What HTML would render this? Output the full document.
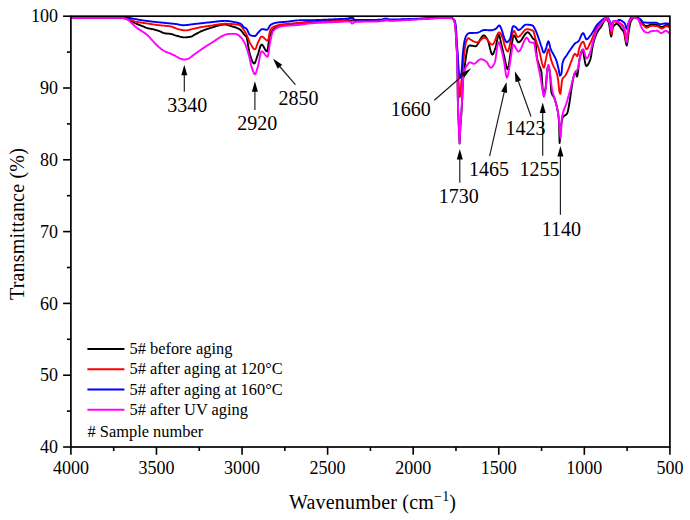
<!DOCTYPE html>
<html><head><meta charset="utf-8"><style>
html,body{margin:0;padding:0;background:#fff;}
body{width:690px;height:520px;overflow:hidden;position:relative;}
svg{position:absolute;left:0;top:0;}
text{font-family:"Liberation Serif",serif;fill:#000;}
.tk{font-size:18px;}
.ti{font-size:20px;letter-spacing:0.2px;}
.an{font-size:20px;}
.lg{font-size:16.4px;}
</style></head><body>
<svg width="690" height="520" viewBox="0 0 690 520">
<polyline points="71,17.50 71.50,17.50 72,17.50 72.50,17.50 73,17.50 73.50,17.50 74,17.50 74.50,17.50 75,17.50 75.50,17.50 76,17.50 76.50,17.50 77,17.50 77.50,17.50 78,17.50 78.50,17.50 79,17.50 79.50,17.50 80,17.50 80.50,17.50 81,17.50 81.50,17.50 82,17.50 82.50,17.50 83,17.50 83.50,17.50 84,17.50 84.50,17.50 85,17.50 85.50,17.50 86,17.50 86.50,17.51 87,17.51 87.50,17.51 88,17.51 88.50,17.51 89,17.51 89.50,17.51 90,17.51 90.50,17.51 91,17.51 91.50,17.51 92,17.51 92.50,17.51 93,17.51 93.50,17.51 94,17.51 94.50,17.51 95,17.52 95.50,17.52 96,17.52 96.50,17.52 97,17.52 97.50,17.52 98,17.52 98.50,17.52 99,17.52 99.50,17.52 100,17.53 100.50,17.53 101,17.53 101.50,17.53 102,17.53 102.50,17.53 103,17.53 103.50,17.53 104,17.54 104.50,17.54 105,17.54 105.50,17.54 106,17.54 106.50,17.54 107,17.54 107.50,17.55 108,17.55 108.50,17.55 109,17.55 109.50,17.55 110,17.55 110.50,17.56 111,17.56 111.50,17.56 112,17.56 112.50,17.56 113,17.57 113.50,17.57 114,17.57 114.50,17.57 115,17.57 115.50,17.58 116,17.58 116.50,17.58 117,17.58 117.50,17.59 118,17.59 118.50,17.59 119,17.59 119.50,17.60 120,17.60 120.50,17.62 121,17.66 121.50,17.72 122,17.80 122.50,17.90 123,18 123.50,18.12 124,18.25 124.50,18.37 125,18.50 125.50,18.64 126,18.81 126.50,19 127,19.20 127.50,19.42 128,19.65 128.50,19.89 129,20.13 129.50,20.37 130,20.60 130.53,20.85 131.05,21.10 131.58,21.37 132.11,21.64 132.64,21.92 133.16,22.20 133.69,22.47 134.22,22.74 134.75,23.01 135.27,23.26 135.80,23.50 136.33,23.73 136.85,23.95 137.38,24.17 137.91,24.38 138.44,24.58 138.96,24.78 139.49,24.99 140.02,25.19 140.55,25.39 141.07,25.59 141.60,25.80 142.13,26.01 142.65,26.24 143.18,26.47 143.71,26.70 144.24,26.93 144.76,27.15 145.29,27.37 145.82,27.58 146.35,27.77 146.87,27.95 147.40,28.10 147.93,28.24 148.45,28.36 148.98,28.47 149.51,28.57 150.04,28.67 150.56,28.77 151.09,28.86 151.62,28.96 152.15,29.07 152.67,29.18 153.20,29.30 153.73,29.43 154.25,29.57 154.78,29.71 155.31,29.85 155.84,30 156.36,30.16 156.89,30.32 157.42,30.48 157.95,30.65 158.47,30.82 159,31 159.53,31.19 160.05,31.41 160.58,31.65 161.11,31.90 161.64,32.15 162.16,32.40 162.69,32.63 163.22,32.85 163.75,33.04 164.27,33.19 164.80,33.30 165.33,33.38 165.85,33.44 166.38,33.50 166.91,33.54 167.44,33.59 167.96,33.63 168.49,33.67 169.02,33.71 169.55,33.76 170.07,33.83 170.60,33.90 171.13,34 171.65,34.13 172.18,34.28 172.71,34.45 173.24,34.63 173.76,34.83 174.29,35.02 174.82,35.21 175.35,35.39 175.87,35.55 176.40,35.70 176.91,35.83 177.41,35.97 177.92,36.11 178.43,36.25 178.93,36.40 179.44,36.54 179.94,36.68 180.45,36.81 180.96,36.93 181.46,37.04 181.97,37.14 182.47,37.23 182.98,37.30 183.49,37.35 183.99,37.39 184.50,37.40 185.03,37.39 185.55,37.37 186.08,37.34 186.61,37.30 187.14,37.25 187.66,37.19 188.19,37.13 188.72,37.05 189.25,36.97 189.77,36.89 190.30,36.80 190.83,36.68 191.35,36.50 191.88,36.28 192.41,36.03 192.94,35.74 193.46,35.43 193.99,35.11 194.52,34.79 195.05,34.48 195.57,34.18 196.10,33.90 196.63,33.63 197.15,33.36 197.68,33.08 198.21,32.81 198.74,32.53 199.26,32.26 199.79,31.99 200.32,31.72 200.85,31.47 201.37,31.23 201.90,31 202.41,30.79 202.91,30.58 203.42,30.38 203.93,30.18 204.43,29.98 204.94,29.79 205.44,29.60 205.95,29.42 206.46,29.24 206.96,29.06 207.47,28.89 207.97,28.72 208.48,28.56 208.99,28.40 209.49,28.25 210,28.10 210.51,27.95 211.01,27.80 211.52,27.64 212.03,27.48 212.53,27.32 213.04,27.16 213.55,27 214.05,26.83 214.56,26.67 215.07,26.51 215.57,26.35 216.08,26.20 216.59,26.04 217.09,25.89 217.60,25.75 218.11,25.61 218.61,25.47 219.12,25.34 219.63,25.22 220.13,25.11 220.64,25 221.15,24.90 221.65,24.81 222.16,24.73 222.67,24.66 223.17,24.61 223.68,24.56 224.19,24.53 224.69,24.51 225.20,24.50 225.73,24.53 226.27,24.61 226.80,24.73 227.33,24.88 227.87,25.06 228.40,25.25 228.93,25.44 229.47,25.63 230,25.80 230.52,25.95 231.04,26.10 231.57,26.25 232.09,26.39 232.61,26.54 233.13,26.68 233.66,26.83 234.18,26.98 234.70,27.14 235.22,27.31 235.74,27.49 236.27,27.67 236.79,27.87 237.31,28.08 237.83,28.31 238.36,28.55 238.88,28.82 239.40,29.10 239.94,29.46 240.48,29.93 241.02,30.48 241.56,31.09 242.10,31.76 242.64,32.46 243.18,33.17 243.72,33.87 244.26,34.56 244.80,35.20 245.30,35.69 245.80,36.13 246.30,36.68 246.80,37.50 247.50,41.17 248.20,46 248.70,48.69 249.20,51.29 249.70,53.60 250.20,55.40 250.70,56.88 251.20,58.33 251.70,59.70 252.20,60.93 252.70,61.98 253.20,62.79 253.70,63.31 254.20,63.50 254.77,63.10 255.33,62.04 255.90,60.52 256.47,58.77 257.03,56.99 257.60,55.40 258.10,53.97 258.60,52.29 259.10,50.50 259.60,48.74 260.10,47.13 260.60,45.81 261.10,44.93 261.60,44.60 262.14,44.79 262.68,45.31 263.22,46.07 263.76,46.99 264.30,48 264.84,49.01 265.38,49.93 265.92,50.69 266.46,51.21 267,51.40 267.54,50.11 268.08,46.92 268.62,42.89 269.16,39.07 269.70,36.50 270.27,34.92 270.83,33.52 271.40,32.32 271.97,31.29 272.53,30.45 273.10,29.80 273.64,29.28 274.18,28.80 274.72,28.36 275.26,27.96 275.80,27.60 276.34,27.28 276.88,27 277.42,26.76 277.96,26.56 278.50,26.40 279,26.28 279.50,26.16 280,26.04 280.50,25.92 281,25.81 281.50,25.70 282,25.60 282.50,25.49 283,25.39 283.50,25.30 284,25.20 284.50,25.11 285,25.02 285.50,24.93 286,24.84 286.50,24.76 287,24.68 287.50,24.60 288,24.52 288.50,24.45 289,24.38 289.50,24.31 290,24.24 290.50,24.17 291,24.10 291.50,24.04 292,23.98 292.50,23.92 293,23.86 293.50,23.80 294,23.75 294.50,23.69 295,23.64 295.50,23.59 296,23.54 296.50,23.49 297,23.44 297.50,23.40 298,23.35 298.50,23.30 299,23.26 299.50,23.22 300,23.17 300.50,23.13 301,23.09 301.50,23.05 302,23.01 302.50,22.97 303,22.93 303.50,22.89 304,22.86 304.50,22.82 305,22.78 305.50,22.74 306,22.70 306.50,22.67 307,22.63 307.50,22.59 308,22.55 308.50,22.52 309,22.48 309.50,22.44 310,22.40 310.50,22.36 311,22.32 311.50,22.28 312,22.24 312.50,22.20 313,22.17 313.50,22.13 314,22.09 314.50,22.05 315,22.01 315.50,21.97 316,21.93 316.50,21.89 317,21.86 317.50,21.82 318,21.78 318.50,21.74 319,21.71 319.50,21.67 320,21.63 320.50,21.60 321,21.56 321.50,21.53 322,21.49 322.50,21.46 323,21.42 323.50,21.39 324,21.36 324.50,21.32 325,21.29 325.50,21.26 326,21.23 326.50,21.20 327,21.17 327.50,21.14 328,21.11 328.50,21.09 329,21.06 329.50,21.03 330,21.01 330.50,20.99 331,20.96 331.50,20.94 332,20.92 332.50,20.90 333,20.88 333.50,20.86 334,20.84 334.50,20.82 335,20.80 335.50,20.79 336,20.78 336.50,20.76 337,20.75 337.50,20.74 338,20.73 338.50,20.72 339,20.71 339.50,20.71 340,20.70 340.50,20.70 341,20.69 341.50,20.69 342,20.68 342.50,20.68 343,20.67 343.50,20.67 344,20.67 344.50,20.66 345,20.66 345.50,20.66 346,20.65 346.50,20.65 347,20.65 347.50,20.64 348,20.64 348.50,20.64 349,20.64 349.50,20.63 350,20.63 350.50,20.63 351,20.63 351.50,20.63 352,20.62 352.50,20.62 353,20.62 353.50,20.62 354,20.62 354.50,20.61 355,20.61 355.50,20.61 356,20.61 356.50,20.61 357,20.61 357.50,20.60 358,20.60 358.50,20.60 359,20.60 359.50,20.60 360,20.60 360.50,20.60 361,20.59 361.50,20.59 362,20.59 362.50,20.59 363,20.59 363.50,20.59 364,20.58 364.50,20.58 365,20.58 365.50,20.58 366,20.58 366.50,20.58 367,20.58 367.50,20.57 368,20.57 368.50,20.57 369,20.57 369.50,20.57 370,20.56 370.50,20.56 371,20.56 371.50,20.56 372,20.55 372.50,20.55 373,20.55 373.50,20.55 374,20.54 374.50,20.54 375,20.54 375.50,20.53 376,20.53 376.50,20.53 377,20.52 377.50,20.52 378,20.52 378.50,20.51 379,20.51 379.50,20.50 380,20.50 380.50,20.50 381,20.49 381.50,20.48 382,20.48 382.50,20.47 383,20.46 383.50,20.45 384,20.44 384.50,20.43 385,20.42 385.50,20.41 386,20.40 386.50,20.39 387,20.38 387.50,20.36 388,20.35 388.50,20.34 389,20.32 389.50,20.31 390,20.29 390.50,20.27 391,20.26 391.50,20.24 392,20.22 392.50,20.21 393,20.19 393.50,20.17 394,20.15 394.50,20.13 395,20.11 395.50,20.10 396,20.08 396.50,20.06 397,20.04 397.50,20.01 398,19.99 398.50,19.97 399,19.95 399.50,19.93 400,19.91 400.50,19.89 401,19.87 401.50,19.84 402,19.82 402.50,19.80 403,19.78 403.50,19.75 404,19.73 404.50,19.71 405,19.69 405.50,19.66 406,19.64 406.50,19.62 407,19.60 407.50,19.57 408,19.55 408.50,19.53 409,19.50 409.50,19.48 410,19.46 410.50,19.44 411,19.41 411.50,19.39 412,19.37 412.50,19.35 413,19.33 413.50,19.31 414,19.28 414.50,19.26 415,19.24 415.50,19.22 416,19.20 416.50,19.18 417,19.16 417.50,19.13 418,19.11 418.50,19.09 419,19.06 419.50,19.04 420,19.01 420.50,18.98 421,18.96 421.50,18.93 422,18.90 422.50,18.87 423,18.84 423.50,18.81 424,18.78 424.50,18.75 425,18.72 425.50,18.69 426,18.66 426.50,18.63 427,18.60 427.50,18.57 428,18.54 428.50,18.51 429,18.47 429.50,18.44 430,18.41 430.50,18.38 431,18.35 431.50,18.32 432,18.29 432.50,18.26 433,18.23 433.50,18.20 434,18.17 434.50,18.14 435,18.11 435.50,18.08 436,18.05 436.50,18.02 437,18 437.50,17.97 438,17.95 438.50,17.92 439,17.90 439.50,17.87 440,17.85 440.50,17.83 441,17.81 441.50,17.78 442,17.77 442.50,17.75 443,17.73 443.50,17.71 444,17.70 444.50,17.68 445,17.67 445.50,17.66 446,17.64 446.50,17.63 447,17.63 447.50,17.62 448,17.61 448.50,17.61 449,17.60 449.50,17.60 450,17.60 450.57,17.67 451.15,17.87 451.73,18.16 452.30,18.50 452.88,18.94 453.45,19.59 454.03,20.55 454.60,21.90 455.20,25.50 455.80,32.30 456.30,43.80 457.20,55.40 457.50,75 457.80,97 458.20,113 458.90,128 459.60,143.50 460.30,128 460.85,120.27 461.40,113 462.30,97 462.90,82 463.40,76.54 463.90,72.80 464.40,69.20 465,64.25 465.60,59.46 466.20,55.40 466.77,52.04 467.33,49.10 467.90,47.30 468.47,46.40 469.03,45.75 469.60,45.50 470.13,45.52 470.65,45.56 471.18,45.63 471.71,45.71 472.24,45.80 472.76,45.90 473.29,45.99 473.82,46.07 474.35,46.14 474.87,46.18 475.40,46.20 475.92,46.08 476.45,45.74 476.97,45.20 477.50,44.51 478.02,43.70 478.55,42.78 479.07,41.81 479.60,40.80 480.12,39.79 480.65,38.82 481.18,37.90 481.70,37.09 482.23,36.40 482.75,35.86 483.28,35.52 483.80,35.40 484.36,35.54 484.91,35.93 485.47,36.52 486.03,37.26 486.59,38.12 487.14,39.05 487.70,40 488.21,41.19 488.72,42.89 489.23,44.94 489.74,47.16 490.26,49.37 490.77,51.39 491.28,53.06 491.79,54.19 492.30,54.60 492.82,54.31 493.33,53.52 493.85,52.36 494.37,50.97 494.88,49.47 495.40,48 495.97,45.94 496.53,43.20 497.10,40.24 497.67,37.53 498.23,35.56 498.80,34.80 499.34,35.52 499.88,37.36 500.42,39.87 500.96,42.57 501.50,45 502.07,47.36 502.65,49.80 503.23,52.25 503.80,54.60 504.36,57.03 504.91,59.75 505.47,62.51 506.03,65.08 506.59,67.21 507.14,68.66 507.70,69.20 508.22,68.29 508.73,65.88 509.25,62.49 509.77,58.63 510.28,54.80 510.80,51.50 511.40,47.70 512,43.44 512.60,39.47 513.20,36.54 513.80,35.40 514.32,35.64 514.84,36.27 515.37,37.19 515.89,38.28 516.41,39.42 516.93,40.51 517.46,41.43 517.98,42.06 518.50,42.30 519.01,42.21 519.52,41.96 520.03,41.56 520.54,41.04 521.06,40.41 521.57,39.71 522.08,38.94 522.59,38.13 523.10,37.30 523.61,36.47 524.12,35.66 524.63,34.89 525.14,34.19 525.66,33.56 526.17,33.04 526.68,32.64 527.19,32.39 527.70,32.30 528.21,32.41 528.72,32.71 529.23,33.17 529.73,33.77 530.24,34.46 530.75,35.21 531.26,35.99 531.77,36.77 532.27,37.51 532.78,38.19 533.29,38.76 533.80,39.20 534.50,39.54 535.20,40 535.77,44.07 536.33,51.60 536.90,57.30 537.48,59.95 538.05,61.96 538.62,63.66 539.20,65.40 539.78,66.95 540.35,68.25 540.92,69.85 541.50,72.30 542.10,80.82 542.70,89.60 543.25,92.65 543.80,94 544.40,93.12 545,90.90 545.60,88 546.23,81.88 546.87,73.43 547.50,68 548.40,66 549,67.48 549.60,71.19 550.20,76 550.75,84.54 551.30,91.90 551.80,93.57 552.30,94.69 552.80,95.48 553.30,96.15 553.80,96.92 554.30,98 554.80,99.37 555.30,100.88 555.80,102.56 556.30,104.45 556.80,106.59 557.30,109 557.87,111.90 558.43,115.75 559,122 559.60,143 560.30,135 560.83,129.11 561.37,123.59 561.90,120 562.50,118.07 563.10,116.90 563.60,116.30 564.10,115.86 564.60,115.54 565.10,115.26 565.60,114.98 566.10,114.63 566.60,114.15 567.10,113.50 567.67,111.96 568.25,109.40 568.83,106.26 569.40,103 570.03,98.99 570.67,94.41 571.30,90 571.90,85.95 572.50,82.04 573.10,79 573.67,76.72 574.25,74.62 574.83,73.09 575.40,72.50 575.97,73.54 576.53,75.46 577.10,76.50 577.67,74.43 578.25,69.61 578.83,64.11 579.40,60 579.98,57.21 580.56,54.51 581.14,52.21 581.72,50.60 582.30,50 582.80,50.69 583.30,52.50 583.80,55.06 584.30,58 584.80,60.94 585.30,63.50 585.80,65.31 586.30,66 586.84,65.85 587.38,65.42 587.91,64.74 588.45,63.84 588.99,62.73 589.52,61.46 590.06,60.04 590.60,58.50 591.17,55.68 591.73,51.66 592.30,48.10 592.88,45.38 593.45,42.89 594.02,40.69 594.60,38.80 595.10,37.37 595.60,36.04 596.10,34.82 596.60,33.69 597.10,32.64 597.60,31.68 598.10,30.80 598.67,29.92 599.23,29.17 599.80,28.48 600.37,27.80 600.93,27.06 601.50,26.20 602.08,25.09 602.65,23.80 603.22,22.54 603.80,21.50 604.40,20.56 605,19.65 605.60,18.97 606.20,18.70 606.72,18.91 607.24,19.50 607.76,20.38 608.28,21.47 608.80,22.70 609.40,25.68 610,30.33 610.60,34.62 611.20,36.50 611.77,34.32 612.33,30.11 612.90,27.30 613.40,26.51 613.90,25.81 614.40,25.22 614.90,24.72 615.40,24.32 615.90,24.03 616.40,23.86 616.90,23.80 617.41,23.92 617.92,24.24 618.43,24.74 618.94,25.36 619.46,26.07 619.97,26.83 620.48,27.60 620.99,28.34 621.50,29 622.08,29.63 622.65,30.24 623.22,30.95 623.80,31.90 624.30,33.58 624.80,36.28 625.30,39.42 625.80,42.40 626.30,44.63 626.80,45.50 627.37,43.04 627.93,37.83 628.50,33.10 629.08,29.56 629.65,26.14 630.22,23.31 630.80,21.50 631.37,20.42 631.93,19.46 632.50,18.66 633.07,18.04 633.63,17.64 634.20,17.50 634.75,17.52 635.30,17.57 635.85,17.65 636.40,17.75 636.95,17.87 637.50,18 638,18.17 638.50,18.42 639,18.75 639.50,19.13 640,19.55 640.50,20 641,20.60 641.50,21.41 642,22.31 642.50,23.21 643,23.97 643.50,24.50 644,24.87 644.50,25.22 645,25.53 645.50,25.78 646,25.94 646.50,26 647,25.97 647.50,25.87 648,25.73 648.50,25.55 649,25.35 649.50,25.15 650,24.95 650.50,24.77 651,24.63 651.50,24.53 652,24.50 652.50,24.51 653,24.53 653.50,24.56 654,24.60 654.50,24.65 655,24.71 655.50,24.77 656,24.85 656.50,24.92 657,25 657.50,25.12 658,25.31 658.50,25.55 659,25.82 659.50,26.10 660,26.37 660.50,26.62 661,26.82 661.50,26.95 662,27 662.50,26.93 663,26.75 663.50,26.48 664,26.17 664.50,25.83 665,25.52 665.50,25.25 666,25.07 666.50,25 667,25.03 667.50,25.12 668,25.26 668.50,25.45 669,25.70 669.50,26" fill="none" stroke="#000000" stroke-width="1.9" stroke-linejoin="round"/>
<polyline points="71,17.50 71.50,17.50 72,17.50 72.50,17.50 73,17.50 73.50,17.50 74,17.50 74.50,17.50 75,17.50 75.50,17.50 76,17.50 76.50,17.50 77,17.50 77.50,17.50 78,17.50 78.50,17.50 79,17.50 79.50,17.50 80,17.50 80.50,17.50 81,17.50 81.50,17.51 82,17.51 82.50,17.51 83,17.51 83.50,17.51 84,17.51 84.50,17.51 85,17.51 85.50,17.51 86,17.51 86.50,17.51 87,17.51 87.50,17.51 88,17.52 88.50,17.52 89,17.52 89.50,17.52 90,17.52 90.50,17.52 91,17.52 91.50,17.52 92,17.53 92.50,17.53 93,17.53 93.50,17.53 94,17.53 94.50,17.53 95,17.54 95.50,17.54 96,17.54 96.50,17.54 97,17.54 97.50,17.55 98,17.55 98.50,17.55 99,17.55 99.50,17.56 100,17.56 100.50,17.56 101,17.56 101.50,17.57 102,17.57 102.50,17.57 103,17.58 103.50,17.58 104,17.58 104.50,17.59 105,17.59 105.50,17.59 106,17.60 106.50,17.60 107,17.60 107.50,17.61 108,17.61 108.50,17.61 109,17.62 109.50,17.62 110,17.63 110.50,17.63 111,17.64 111.50,17.64 112,17.64 112.50,17.65 113,17.65 113.50,17.66 114,17.66 114.50,17.67 115,17.67 115.50,17.68 116,17.68 116.50,17.69 117,17.70 117.50,17.70 118,17.71 118.50,17.71 119,17.72 119.50,17.73 120,17.73 120.50,17.74 121,17.74 121.50,17.75 122,17.76 122.50,17.76 123,17.77 123.50,17.78 124,17.79 124.50,17.79 125,17.80 125.50,17.84 126,17.93 126.50,18.07 127,18.24 127.50,18.44 128,18.65 128.50,18.87 129,19.10 129.50,19.31 130,19.50 130.53,19.70 131.05,19.91 131.58,20.13 132.11,20.35 132.64,20.58 133.16,20.80 133.69,21.02 134.22,21.22 134.75,21.40 135.27,21.56 135.80,21.70 136.30,21.81 136.81,21.92 137.31,22.02 137.82,22.12 138.32,22.21 138.83,22.30 139.33,22.38 139.83,22.46 140.34,22.54 140.84,22.61 141.35,22.68 141.85,22.75 142.36,22.82 142.86,22.89 143.37,22.95 143.87,23.02 144.37,23.08 144.88,23.15 145.38,23.22 145.89,23.28 146.39,23.35 146.90,23.43 147.40,23.50 147.90,23.58 148.41,23.65 148.91,23.73 149.42,23.81 149.92,23.89 150.43,23.97 150.93,24.04 151.43,24.12 151.94,24.20 152.44,24.28 152.95,24.35 153.45,24.43 153.96,24.51 154.46,24.58 154.97,24.66 155.47,24.73 155.97,24.80 156.48,24.87 156.98,24.94 157.49,25.01 157.99,25.07 158.50,25.14 159,25.20 159.50,25.26 160.01,25.31 160.51,25.37 161.02,25.42 161.52,25.46 162.03,25.51 162.53,25.55 163.03,25.59 163.54,25.63 164.04,25.67 164.55,25.71 165.05,25.76 165.56,25.80 166.06,25.84 166.57,25.89 167.07,25.94 167.57,25.99 168.08,26.05 168.58,26.11 169.09,26.18 169.59,26.24 170.10,26.32 170.60,26.40 171.11,26.50 171.61,26.63 172.12,26.78 172.62,26.96 173.13,27.15 173.64,27.36 174.14,27.58 174.65,27.80 175.16,28.02 175.66,28.24 176.17,28.46 176.67,28.66 177.18,28.85 177.69,29.03 178.19,29.18 178.70,29.30 179.20,29.41 179.70,29.52 180.20,29.63 180.70,29.74 181.20,29.84 181.70,29.94 182.20,30.04 182.70,30.13 183.20,30.20 183.70,30.27 184.20,30.32 184.70,30.37 185.20,30.39 185.70,30.40 186.21,30.39 186.71,30.35 187.22,30.29 187.72,30.21 188.23,30.12 188.74,30.01 189.24,29.89 189.75,29.76 190.26,29.63 190.76,29.49 191.27,29.35 191.78,29.20 192.28,29.07 192.79,28.94 193.29,28.81 193.80,28.70 194.31,28.59 194.81,28.48 195.32,28.37 195.83,28.26 196.33,28.15 196.84,28.04 197.34,27.92 197.85,27.81 198.36,27.70 198.86,27.59 199.37,27.49 199.88,27.38 200.38,27.28 200.89,27.18 201.39,27.09 201.90,27 202.41,26.91 202.91,26.83 203.42,26.75 203.93,26.67 204.43,26.59 204.94,26.51 205.44,26.44 205.95,26.37 206.46,26.29 206.96,26.22 207.47,26.15 207.97,26.08 208.48,26.01 208.99,25.94 209.49,25.87 210,25.80 210.51,25.73 211.01,25.65 211.52,25.57 212.03,25.49 212.53,25.41 213.04,25.32 213.55,25.23 214.05,25.14 214.56,25.05 215.07,24.97 215.57,24.88 216.08,24.79 216.59,24.70 217.09,24.62 217.60,24.53 218.11,24.45 218.61,24.37 219.12,24.30 219.63,24.23 220.13,24.16 220.64,24.10 221.15,24.04 221.65,23.99 222.16,23.94 222.67,23.90 223.17,23.86 223.68,23.84 224.19,23.82 224.69,23.80 225.20,23.80 225.70,23.80 226.21,23.81 226.71,23.81 227.22,23.82 227.72,23.84 228.23,23.85 228.73,23.87 229.23,23.89 229.74,23.91 230.24,23.94 230.75,23.97 231.25,24 231.76,24.03 232.26,24.07 232.77,24.11 233.27,24.15 233.77,24.19 234.28,24.24 234.78,24.29 235.29,24.34 235.79,24.39 236.30,24.44 236.80,24.50 237.30,24.57 237.80,24.67 238.30,24.79 238.80,24.94 239.30,25.11 239.80,25.31 240.30,25.54 240.80,25.80 241.33,26.22 241.87,26.86 242.40,27.66 242.93,28.54 243.47,29.44 244,30.30 244.55,31.14 245.10,32 245.65,32.91 246.20,33.90 246.70,34.94 247.20,36.12 247.70,37.40 248.20,38.71 248.70,40.02 249.20,41.25 249.70,42.36 250.20,43.30 250.72,44.19 251.24,45.11 251.77,46.02 252.29,46.88 252.81,47.66 253.33,48.33 253.86,48.84 254.38,49.18 254.90,49.30 255.47,48.90 256.03,47.85 256.60,46.39 257.17,44.76 257.73,43.18 258.30,41.90 258.85,40.79 259.40,39.59 259.95,38.43 260.50,37.44 261.05,36.76 261.60,36.50 262.11,36.58 262.62,36.80 263.12,37.14 263.63,37.56 264.14,38.04 264.65,38.55 265.16,39.06 265.67,39.54 266.18,39.96 266.68,40.30 267.19,40.52 267.70,40.60 268.24,39.60 268.78,37.18 269.32,34.17 269.86,31.43 270.40,29.80 270.90,29.12 271.40,28.52 271.90,28.01 272.40,27.57 272.90,27.19 273.40,26.88 273.90,26.62 274.40,26.40 274.90,26.21 275.40,26.03 275.90,25.86 276.40,25.70 276.90,25.54 277.40,25.40 277.90,25.27 278.40,25.14 278.90,25.03 279.40,24.92 279.90,24.82 280.40,24.72 280.90,24.63 281.40,24.55 281.90,24.47 282.40,24.39 282.90,24.33 283.40,24.26 283.90,24.20 284.40,24.14 284.91,24.09 285.41,24.04 285.91,23.99 286.42,23.94 286.92,23.90 287.42,23.86 287.92,23.82 288.43,23.78 288.93,23.75 289.43,23.71 289.94,23.68 290.44,23.65 290.94,23.62 291.45,23.59 291.95,23.56 292.45,23.53 292.96,23.50 293.46,23.47 293.96,23.44 294.47,23.41 294.97,23.38 295.47,23.35 295.98,23.32 296.48,23.28 296.98,23.25 297.48,23.21 297.99,23.17 298.49,23.13 298.99,23.09 299.50,23.05 300,23 300.50,22.95 301,22.89 301.50,22.83 302,22.76 302.50,22.69 303,22.61 303.50,22.54 304,22.46 304.50,22.38 305,22.30 305.50,22.23 306,22.15 306.50,22.08 307,22.01 307.50,21.94 308,21.88 308.50,21.82 309,21.78 309.50,21.73 310,21.70 310.50,21.67 311,21.64 311.50,21.62 312,21.59 312.50,21.57 313,21.55 313.50,21.52 314,21.50 314.50,21.48 315,21.46 315.50,21.45 316,21.43 316.50,21.41 317,21.40 317.50,21.38 318,21.37 318.50,21.35 319,21.34 319.50,21.33 320,21.32 320.50,21.31 321,21.29 321.50,21.28 322,21.27 322.50,21.26 323,21.25 323.50,21.24 324,21.23 324.50,21.22 325,21.21 325.50,21.20 326,21.19 326.50,21.18 327,21.17 327.50,21.16 328,21.15 328.50,21.14 329,21.13 329.50,21.12 330,21.10 330.50,21.09 331,21.08 331.50,21.07 332,21.05 332.50,21.04 333,21.02 333.50,21 334,20.99 334.50,20.97 335,20.95 335.50,20.93 336,20.91 336.50,20.89 337,20.86 337.50,20.84 338,20.81 338.50,20.79 339,20.76 339.50,20.73 340,20.70 340.50,20.67 341,20.63 341.50,20.60 342,20.56 342.50,20.51 343,20.46 343.50,20.40 344,20.34 344.50,20.27 345,20.19 345.50,20.10 346,20.01 346.50,19.90 347,19.78 347.50,19.65 348,19.50 348.50,19.12 349,18.44 349.50,17.68 350,17.06 350.50,16.80 351,17.11 351.50,17.84 352,18.73 352.50,19.47 353,19.80 353.50,19.82 354,19.85 354.50,19.87 355,19.89 355.50,19.91 356,19.94 356.50,19.96 357,19.97 357.50,19.99 358,20.01 358.50,20.03 359,20.04 359.50,20.06 360,20.07 360.50,20.09 361,20.10 361.50,20.12 362,20.13 362.50,20.14 363,20.15 363.50,20.16 364,20.17 364.50,20.18 365,20.19 365.50,20.20 366,20.21 366.50,20.22 367,20.23 367.50,20.23 368,20.24 368.50,20.25 369,20.25 369.50,20.26 370,20.26 370.50,20.27 371,20.27 371.50,20.27 372,20.28 372.50,20.28 373,20.28 373.50,20.29 374,20.29 374.50,20.29 375,20.29 375.50,20.29 376,20.30 376.50,20.30 377,20.30 377.50,20.30 378,20.30 378.50,20.30 379,20.30 379.50,20.30 380,20.30 380.50,20.27 381,20.20 381.50,20.10 382,19.96 382.50,19.81 383,19.65 383.50,19.49 384,19.34 384.50,19.20 385,19.10 385.50,19.03 386,19 386.50,19.04 387,19.16 387.50,19.32 388,19.50 388.50,19.68 389,19.84 389.50,19.96 390,20 390.50,20 391,20 391.50,19.99 392,19.99 392.50,19.98 393,19.98 393.50,19.97 394,19.96 394.50,19.95 395,19.94 395.50,19.92 396,19.91 396.50,19.89 397,19.88 397.50,19.86 398,19.84 398.50,19.83 399,19.81 399.50,19.79 400,19.77 400.50,19.75 401,19.72 401.50,19.70 402,19.68 402.50,19.66 403,19.63 403.50,19.61 404,19.58 404.50,19.56 405,19.54 405.50,19.51 406,19.49 406.50,19.46 407,19.43 407.50,19.41 408,19.38 408.50,19.36 409,19.33 409.50,19.31 410,19.28 410.50,19.26 411,19.23 411.50,19.21 412,19.18 412.50,19.16 413,19.13 413.50,19.11 414,19.09 414.50,19.06 415,19.04 415.50,19.02 416,19 416.50,18.98 417,18.96 417.50,18.94 418,18.91 418.50,18.89 419,18.86 419.50,18.84 420,18.82 420.50,18.79 421,18.76 421.50,18.74 422,18.71 422.50,18.68 423,18.65 423.50,18.63 424,18.60 424.50,18.57 425,18.54 425.50,18.51 426,18.48 426.50,18.45 427,18.42 427.50,18.39 428,18.37 428.50,18.34 429,18.31 429.50,18.28 430,18.25 430.50,18.22 431,18.19 431.50,18.16 432,18.13 432.50,18.10 433,18.08 433.50,18.05 434,18.02 434.50,17.99 435,17.97 435.50,17.94 436,17.91 436.50,17.89 437,17.86 437.50,17.84 438,17.82 438.50,17.79 439,17.77 439.50,17.75 440,17.73 440.50,17.71 441,17.69 441.50,17.67 442,17.65 442.50,17.63 443,17.62 443.50,17.60 444,17.59 444.50,17.57 445,17.56 445.50,17.55 446,17.54 446.50,17.53 447,17.52 447.50,17.52 448,17.51 448.50,17.51 449,17.50 449.50,17.50 450,17.50 450.50,17.55 451,17.70 451.50,17.92 452,18.19 452.50,18.50 453.07,18.94 453.65,19.60 454.23,20.55 454.80,21.90 455.40,25.64 456,32.30 456.60,43.80 457.50,55.40 458.20,75 459,90 459.80,97 460.60,90 461.50,80 462.10,75.16 462.70,70.40 463.27,64.25 463.83,57.45 464.40,51.90 465,47.51 465.60,43.83 466.20,41.50 466.77,40.19 467.35,39.11 467.93,38.37 468.50,38.10 469,38.32 469.50,38.78 470,39.20 470.53,39.52 471.06,39.84 471.59,40.17 472.12,40.50 472.65,40.81 473.18,41.11 473.72,41.39 474.25,41.65 474.78,41.87 475.31,42.05 475.84,42.18 476.37,42.27 476.90,42.30 477.41,42.24 477.93,42.08 478.44,41.82 478.95,41.49 479.47,41.11 479.98,40.68 480.49,40.23 481.01,39.77 481.52,39.32 482.03,38.89 482.55,38.51 483.06,38.18 483.57,37.92 484.09,37.76 484.60,37.70 485.11,37.79 485.63,38.04 486.14,38.42 486.65,38.91 487.17,39.49 487.68,40.13 488.19,40.81 488.71,41.49 489.22,42.17 489.73,42.81 490.25,43.39 490.76,43.88 491.27,44.26 491.79,44.51 492.30,44.60 492.83,44.39 493.36,43.82 493.89,42.94 494.42,41.82 494.95,40.54 495.48,39.16 496.02,37.74 496.55,36.36 497.08,35.08 497.61,33.96 498.14,33.08 498.67,32.51 499.20,32.30 499.76,32.50 500.31,33.07 500.87,33.94 501.43,35.05 501.99,36.33 502.54,37.74 503.10,39.20 503.60,41.08 504.10,43.47 504.60,45.40 505.12,46.85 505.63,48.26 506.15,49.53 506.67,50.56 507.18,51.25 507.70,51.50 508.22,50.95 508.73,49.50 509.25,47.46 509.77,45.13 510.28,42.81 510.80,40.80 511.40,38.46 512,35.82 512.60,33.34 513.20,31.51 513.80,30.80 514.36,31.14 514.91,32.01 515.47,33.20 516.03,34.50 516.59,35.69 517.14,36.56 517.70,36.90 518.21,36.83 518.72,36.64 519.23,36.33 519.74,35.93 520.26,35.45 520.77,34.90 521.28,34.31 521.79,33.69 522.30,33.05 522.81,32.41 523.32,31.79 523.83,31.20 524.34,30.65 524.86,30.17 525.37,29.77 525.88,29.46 526.39,29.27 526.90,29.20 527.42,29.21 527.93,29.24 528.45,29.29 528.97,29.37 529.48,29.46 530,29.58 530.52,29.72 531.03,29.89 531.55,30.08 532.07,30.29 532.58,30.53 533.10,30.80 533.64,31.66 534.18,33.41 534.72,35.65 535.26,37.97 535.80,40 536.37,41.76 536.93,43.43 537.50,45.06 538.07,46.72 538.63,48.48 539.20,50.40 539.70,52.38 540.20,54.65 540.70,57.08 541.20,59.51 541.70,61.80 542.20,63.81 542.70,65.40 543.25,66.91 543.80,67.70 544.38,66.68 544.95,64.21 545.52,61.15 546.10,58.40 546.67,55.66 547.25,52.64 547.83,50.20 548.40,49.20 548.98,50.27 549.55,52.83 550.12,55.87 550.70,58.40 551.30,60.36 551.90,62.19 552.50,63.87 553.10,65.40 553.67,66.63 554.23,67.66 554.80,68.62 555.37,69.63 555.93,70.81 556.50,72.30 557.07,74.31 557.63,76.97 558.20,80.30 558.80,86.56 559.40,91.90 560.30,93.80 560.80,91.72 561.30,87.03 561.80,82.08 562.30,79.20 562.84,78.26 563.38,77.63 563.92,77.15 564.46,76.66 565,76 565.52,75.19 566.03,74.29 566.55,73.31 567.07,72.25 567.58,71.15 568.10,70 568.67,68.61 569.23,67.06 569.80,65.42 570.37,63.78 570.93,62.21 571.50,60.80 572,59.57 572.50,58.24 573,56.92 573.50,55.71 574,54.72 574.50,54.05 575,53.80 575.58,54.18 576.15,55 576.72,55.82 577.30,56.20 577.88,54.99 578.45,52.20 579.02,49.08 579.60,46.90 580.10,45.79 580.60,44.72 581.10,43.75 581.60,42.92 582.10,42.27 582.60,41.85 583.10,41.70 583.67,42.26 584.23,43.64 584.80,45.45 585.37,47.26 585.93,48.64 586.50,49.20 587,49 587.50,48.46 588,47.66 588.50,46.68 589,45.61 589.50,44.52 590,43.50 590.50,42.49 591,41.40 591.50,40.24 592,39.04 592.50,37.81 593,36.59 593.50,35.40 594.07,33.99 594.63,32.47 595.20,30.95 595.77,29.52 596.33,28.27 596.90,27.30 597.40,26.64 597.90,26.06 598.40,25.55 598.90,25.08 599.40,24.64 599.90,24.22 600.40,23.80 600.91,23.37 601.42,22.95 601.93,22.54 602.44,22.15 602.96,21.76 603.47,21.40 603.98,21.05 604.49,20.72 605,20.40 605.58,20.02 606.15,19.63 606.72,19.32 607.30,19.20 607.84,19.42 608.38,20.05 608.92,21.03 609.46,22.30 610,23.80 610.70,29.52 611.40,34.20 611.92,32.22 612.45,27.85 612.98,23.48 613.50,21.50 614,21.52 614.50,21.57 615,21.65 615.50,21.75 616,21.88 616.50,22.02 617,22.17 617.50,22.33 618,22.50 618.53,22.68 619.06,22.89 619.59,23.13 620.12,23.40 620.65,23.72 621.18,24.08 621.71,24.51 622.24,25 622.77,25.56 623.30,26.20 623.87,27.90 624.43,31.02 625,34.80 625.57,38.45 626.13,41.21 626.70,42.30 627.30,38.97 627.90,32.23 628.50,27 629.04,24.54 629.58,22.35 630.12,20.54 630.66,19.22 631.20,18.50 631.70,18.16 632.20,17.87 632.70,17.63 633.20,17.45 633.70,17.34 634.20,17.30 634.74,17.35 635.29,17.49 635.83,17.70 636.37,17.97 636.91,18.28 637.46,18.63 638,19 638.50,19.46 639,20.09 639.50,20.84 640,21.62 640.50,22.37 641,23 641.50,23.54 642,24.04 642.50,24.51 643,24.97 643.50,25.40 644,25.87 644.50,26.38 645,26.87 645.50,27.29 646,27.59 646.50,27.70 647.04,27.65 647.58,27.50 648.12,27.29 648.66,27.03 649.20,26.75 649.74,26.47 650.28,26.21 650.82,26 651.36,25.85 651.90,25.80 652.44,25.80 652.98,25.82 653.52,25.84 654.06,25.87 654.60,25.91 655.14,25.96 655.68,26.01 656.22,26.07 656.76,26.13 657.30,26.20 657.81,26.33 658.32,26.57 658.83,26.89 659.34,27.24 659.86,27.61 660.37,27.95 660.88,28.23 661.39,28.43 661.90,28.50 662.41,28.42 662.92,28.21 663.43,27.90 663.94,27.54 664.46,27.16 664.97,26.80 665.48,26.49 665.99,26.28 666.50,26.20 667,26.25 667.50,26.39 668,26.61 668.50,26.91 669,27.28 669.50,27.70" fill="none" stroke="#ff0000" stroke-width="1.9" stroke-linejoin="round"/>
<polyline points="71,17.30 71.50,17.30 72,17.30 72.50,17.30 73,17.30 73.50,17.30 74,17.30 74.50,17.30 75,17.30 75.50,17.30 76,17.30 76.50,17.30 77,17.30 77.50,17.30 78,17.30 78.50,17.30 79,17.30 79.50,17.30 80,17.30 80.50,17.30 81,17.30 81.50,17.30 82,17.31 82.50,17.31 83,17.31 83.50,17.31 84,17.31 84.50,17.31 85,17.31 85.50,17.31 86,17.31 86.50,17.31 87,17.31 87.50,17.31 88,17.31 88.50,17.31 89,17.31 89.50,17.32 90,17.32 90.50,17.32 91,17.32 91.50,17.32 92,17.32 92.50,17.32 93,17.32 93.50,17.32 94,17.33 94.50,17.33 95,17.33 95.50,17.33 96,17.33 96.50,17.33 97,17.33 97.50,17.34 98,17.34 98.50,17.34 99,17.34 99.50,17.34 100,17.34 100.50,17.35 101,17.35 101.50,17.35 102,17.35 102.50,17.35 103,17.36 103.50,17.36 104,17.36 104.50,17.36 105,17.36 105.50,17.37 106,17.37 106.50,17.37 107,17.37 107.50,17.38 108,17.38 108.50,17.38 109,17.38 109.50,17.39 110,17.39 110.50,17.39 111,17.40 111.50,17.40 112,17.40 112.50,17.40 113,17.41 113.50,17.41 114,17.41 114.50,17.42 115,17.42 115.50,17.42 116,17.43 116.50,17.43 117,17.43 117.50,17.44 118,17.44 118.50,17.45 119,17.45 119.50,17.45 120,17.46 120.50,17.46 121,17.47 121.50,17.47 122,17.47 122.50,17.48 123,17.48 123.50,17.49 124,17.49 124.50,17.50 125,17.50 125.50,17.51 126,17.53 126.50,17.57 127,17.61 127.50,17.67 128,17.73 128.50,17.80 129,17.88 129.50,17.97 130,18.05 130.50,18.15 131,18.24 131.50,18.34 132,18.44 132.50,18.54 133,18.64 133.50,18.73 134,18.82 134.50,18.91 135,19 135.51,19.09 136.02,19.18 136.52,19.27 137.03,19.37 137.54,19.46 138.05,19.56 138.55,19.66 139.06,19.76 139.57,19.85 140.08,19.94 140.58,20.03 141.09,20.12 141.60,20.20 142.10,20.28 142.61,20.35 143.11,20.43 143.62,20.50 144.12,20.57 144.63,20.64 145.13,20.71 145.63,20.78 146.14,20.84 146.64,20.91 147.15,20.97 147.65,21.04 148.16,21.10 148.66,21.16 149.17,21.23 149.67,21.29 150.17,21.35 150.68,21.41 151.18,21.47 151.69,21.52 152.19,21.58 152.70,21.64 153.20,21.70 153.70,21.76 154.21,21.81 154.71,21.87 155.22,21.92 155.72,21.98 156.23,22.03 156.73,22.08 157.23,22.14 157.74,22.19 158.24,22.24 158.75,22.29 159.25,22.34 159.76,22.39 160.26,22.44 160.77,22.49 161.27,22.54 161.77,22.59 162.28,22.64 162.78,22.69 163.29,22.75 163.79,22.80 164.30,22.85 164.80,22.90 165.30,22.95 165.81,23 166.31,23.05 166.82,23.10 167.32,23.15 167.83,23.20 168.33,23.25 168.83,23.30 169.34,23.34 169.84,23.39 170.35,23.44 170.85,23.49 171.36,23.54 171.86,23.59 172.37,23.64 172.87,23.69 173.37,23.75 173.88,23.80 174.38,23.86 174.89,23.92 175.39,23.98 175.90,24.04 176.40,24.10 176.93,24.18 177.46,24.27 177.99,24.37 178.52,24.48 179.05,24.59 179.58,24.70 180.12,24.81 180.65,24.92 181.18,25.01 181.71,25.09 182.24,25.15 182.77,25.19 183.30,25.20 183.80,25.20 184.30,25.18 184.80,25.16 185.30,25.13 185.80,25.09 186.30,25.05 186.80,25 187.30,24.94 187.80,24.89 188.30,24.82 188.80,24.76 189.30,24.69 189.80,24.62 190.30,24.55 190.80,24.48 191.30,24.41 191.80,24.35 192.30,24.28 192.80,24.22 193.30,24.16 193.80,24.10 194.31,24.05 194.81,23.99 195.32,23.93 195.83,23.88 196.33,23.82 196.84,23.76 197.34,23.71 197.85,23.65 198.36,23.59 198.86,23.53 199.37,23.48 199.88,23.42 200.38,23.36 200.89,23.30 201.39,23.24 201.90,23.19 202.41,23.13 202.91,23.07 203.42,23.01 203.93,22.96 204.43,22.90 204.94,22.84 205.44,22.78 205.95,22.73 206.46,22.67 206.96,22.62 207.47,22.56 207.97,22.51 208.48,22.46 208.99,22.40 209.49,22.35 210,22.30 210.51,22.25 211.01,22.19 211.52,22.14 212.03,22.08 212.53,22.02 213.04,21.96 213.55,21.90 214.05,21.84 214.56,21.77 215.07,21.71 215.57,21.65 216.08,21.59 216.59,21.53 217.09,21.47 217.60,21.41 218.11,21.35 218.61,21.30 219.12,21.25 219.63,21.20 220.13,21.15 220.64,21.11 221.15,21.07 221.65,21.03 222.16,21 222.67,20.97 223.17,20.94 223.68,20.93 224.19,20.91 224.69,20.90 225.20,20.90 225.70,20.90 226.21,20.92 226.71,20.94 227.22,20.97 227.72,21.01 228.23,21.06 228.73,21.11 229.23,21.18 229.74,21.24 230.24,21.32 230.75,21.39 231.25,21.48 231.76,21.57 232.26,21.66 232.77,21.75 233.27,21.85 233.77,21.95 234.28,22.06 234.78,22.17 235.29,22.27 235.79,22.38 236.30,22.49 236.80,22.60 237.33,22.72 237.85,22.84 238.38,22.98 238.90,23.13 239.43,23.31 239.95,23.51 240.47,23.74 241,24 241.50,24.39 242,24.97 242.50,25.64 243,26.33 243.50,26.95 244,27.40 244.55,27.71 245.10,27.94 245.65,28.17 246.20,28.50 246.70,29.05 247.20,29.90 247.70,30.94 248.20,32.06 248.70,33.15 249.20,34.11 249.70,34.83 250.20,35.20 250.72,35.36 251.24,35.50 251.77,35.63 252.29,35.74 252.81,35.83 253.33,35.90 253.86,35.96 254.38,35.99 254.90,36 255.47,35.81 256.03,35.33 256.60,34.65 257.17,33.88 257.73,33.13 258.30,32.50 258.80,32 259.30,31.44 259.80,30.88 260.30,30.33 260.80,29.85 261.30,29.46 261.80,29.20 262.30,29.10 262.82,29.12 263.34,29.19 263.87,29.28 264.39,29.39 264.91,29.51 265.43,29.62 265.96,29.71 266.48,29.78 267,29.80 267.57,29.51 268.13,28.75 268.70,27.74 269.27,26.66 269.83,25.72 270.40,25.10 270.94,24.75 271.48,24.42 272.02,24.12 272.56,23.85 273.10,23.61 273.64,23.40 274.18,23.21 274.72,23.04 275.26,22.91 275.80,22.80 276.31,22.71 276.83,22.63 277.34,22.56 277.86,22.49 278.37,22.43 278.89,22.37 279.40,22.32 279.91,22.26 280.43,22.22 280.94,22.17 281.46,22.13 281.97,22.09 282.49,22.05 283,22.01 283.51,21.97 284.03,21.93 284.54,21.89 285.06,21.84 285.57,21.80 286.09,21.75 286.60,21.70 287.12,21.65 287.63,21.59 288.15,21.53 288.66,21.46 289.18,21.40 289.69,21.33 290.21,21.26 290.72,21.20 291.24,21.13 291.75,21.06 292.27,20.99 292.78,20.92 293.30,20.86 293.82,20.79 294.33,20.73 294.85,20.67 295.36,20.61 295.88,20.56 296.39,20.51 296.91,20.46 297.42,20.42 297.94,20.39 298.45,20.36 298.97,20.33 299.48,20.31 300,20.30 300.50,20.29 301,20.28 301.50,20.28 302,20.27 302.50,20.27 303,20.26 303.50,20.26 304,20.25 304.50,20.25 305,20.25 305.50,20.24 306,20.24 306.50,20.24 307,20.23 307.50,20.23 308,20.22 308.50,20.22 309,20.21 309.50,20.21 310,20.20 310.50,20.19 311,20.18 311.50,20.18 312,20.17 312.50,20.16 313,20.14 313.50,20.13 314,20.12 314.50,20.11 315,20.10 315.50,20.08 316,20.07 316.50,20.05 317,20.04 317.50,20.02 318,20 318.50,19.99 319,19.97 319.50,19.95 320,19.93 320.50,19.92 321,19.90 321.50,19.88 322,19.86 322.50,19.84 323,19.82 323.50,19.80 324,19.78 324.50,19.75 325,19.73 325.50,19.71 326,19.69 326.50,19.66 327,19.64 327.50,19.62 328,19.60 328.50,19.57 329,19.55 329.50,19.52 330,19.50 330.50,19.48 331,19.45 331.50,19.43 332,19.40 332.50,19.38 333,19.35 333.50,19.33 334,19.30 334.50,19.28 335,19.25 335.50,19.23 336,19.20 336.50,19.18 337,19.15 337.50,19.13 338,19.10 338.50,19.07 339,19.05 339.50,19.02 340,19 340.50,18.98 341,18.95 341.50,18.94 342,18.92 342.50,18.90 343,18.88 343.50,18.86 344,18.85 344.50,18.83 345,18.80 345.50,18.78 346,18.76 346.50,18.73 347,18.69 347.50,18.66 348,18.62 348.50,18.57 349,18.52 349.50,18.46 350,18.40 350.50,18.18 351,17.77 351.50,17.38 352,17.20 352.50,17.40 353,17.90 353.50,18.55 354,19.20 354.50,19.70 355,19.90 355.50,19.90 356,19.90 356.50,19.90 357,19.90 357.50,19.90 358,19.90 358.50,19.90 359,19.90 359.50,19.90 360,19.90 360.50,19.90 361,19.90 361.50,19.90 362,19.89 362.50,19.89 363,19.89 363.50,19.89 364,19.89 364.50,19.89 365,19.89 365.50,19.89 366,19.89 366.50,19.88 367,19.88 367.50,19.88 368,19.88 368.50,19.88 369,19.87 369.50,19.87 370,19.87 370.50,19.87 371,19.87 371.50,19.86 372,19.86 372.50,19.86 373,19.85 373.50,19.85 374,19.85 374.50,19.85 375,19.84 375.50,19.84 376,19.83 376.50,19.83 377,19.83 377.50,19.82 378,19.82 378.50,19.81 379,19.81 379.50,19.80 380,19.80 380.50,19.77 381,19.70 381.50,19.60 382,19.48 382.50,19.34 383,19.19 383.50,19.05 384,18.91 384.50,18.78 385,18.69 385.50,18.62 386,18.60 386.50,18.64 387,18.74 387.50,18.88 388,19.05 388.50,19.22 389,19.36 389.50,19.46 390,19.50 390.50,19.50 391,19.50 391.50,19.50 392,19.49 392.50,19.49 393,19.48 393.50,19.48 394,19.47 394.50,19.47 395,19.46 395.50,19.45 396,19.44 396.50,19.43 397,19.42 397.50,19.41 398,19.40 398.50,19.38 399,19.37 399.50,19.36 400,19.35 400.50,19.33 401,19.32 401.50,19.30 402,19.29 402.50,19.27 403,19.25 403.50,19.24 404,19.22 404.50,19.21 405,19.19 405.50,19.17 406,19.15 406.50,19.14 407,19.12 407.50,19.10 408,19.08 408.50,19.06 409,19.05 409.50,19.03 410,19.01 410.50,18.99 411,18.97 411.50,18.95 412,18.94 412.50,18.92 413,18.90 413.50,18.88 414,18.87 414.50,18.85 415,18.83 415.50,18.82 416,18.80 416.50,18.78 417,18.77 417.50,18.75 418,18.73 418.50,18.71 419,18.69 419.50,18.67 420,18.65 420.50,18.62 421,18.60 421.50,18.58 422,18.55 422.50,18.53 423,18.50 423.50,18.48 424,18.45 424.50,18.43 425,18.40 425.50,18.37 426,18.35 426.50,18.32 427,18.29 427.50,18.27 428,18.24 428.50,18.21 429,18.18 429.50,18.15 430,18.13 430.50,18.10 431,18.07 431.50,18.04 432,18.02 432.50,17.99 433,17.96 433.50,17.94 434,17.91 434.50,17.88 435,17.86 435.50,17.83 436,17.81 436.50,17.78 437,17.76 437.50,17.73 438,17.71 438.50,17.69 439,17.67 439.50,17.65 440,17.63 440.50,17.61 441,17.59 441.50,17.57 442,17.55 442.50,17.53 443,17.52 443.50,17.50 444,17.49 444.50,17.47 445,17.46 445.50,17.45 446,17.44 446.50,17.43 447,17.42 447.50,17.42 448,17.41 448.50,17.41 449,17.40 449.50,17.40 450,17.40 450.54,17.46 451.08,17.62 451.62,17.87 452.16,18.17 452.70,18.50 453.20,18.84 453.70,19.29 454.20,19.91 454.70,20.75 455.20,21.90 455.75,25.66 456.30,32.30 456.90,43.80 457.80,55.40 458.70,70 459.20,75.35 459.70,78 460.60,76 461.50,72.70 462.10,64.79 462.70,55.40 463.27,49.70 463.83,44.92 464.40,41.50 465,39 465.60,37.06 466.20,35.80 466.70,35.10 467.20,34.47 467.70,33.93 468.20,33.51 468.70,33.23 469.20,33.10 469.71,33.06 470.23,33.03 470.74,33 471.25,32.98 471.77,32.96 472.28,32.95 472.79,32.94 473.31,32.93 473.82,32.92 474.33,32.91 474.85,32.90 475.36,32.88 475.87,32.86 476.39,32.83 476.90,32.80 477.41,32.73 477.93,32.61 478.44,32.44 478.95,32.23 479.47,31.99 479.98,31.74 480.49,31.47 481.01,31.20 481.52,30.93 482.03,30.69 482.55,30.46 483.06,30.27 483.57,30.13 484.09,30.03 484.60,30 485.12,30.01 485.63,30.02 486.15,30.05 486.67,30.08 487.18,30.11 487.70,30.15 488.22,30.19 488.73,30.22 489.25,30.25 489.77,30.28 490.28,30.29 490.80,30.30 491.34,30.28 491.88,30.20 492.42,30.09 492.96,29.94 493.50,29.76 494.04,29.55 494.58,29.31 495.12,29.05 495.66,28.78 496.20,28.50 496.70,28.09 497.20,27.46 497.70,26.75 498.20,26.09 498.70,25.59 499.20,25.40 499.72,25.65 500.23,26.34 500.75,27.37 501.27,28.64 501.78,30.05 502.30,31.50 503.10,34.60 503.64,36.17 504.19,37.71 504.73,39.15 505.27,40.41 505.81,41.41 506.36,42.06 506.90,42.30 507.45,42.02 508,41.50 508.50,41.06 509,40.57 509.50,39.97 510,39.20 510.52,37.61 511.03,35.03 511.55,32.03 512.07,29.17 512.58,27.04 513.10,26.20 513.67,26.26 514.25,26.42 514.83,26.64 515.40,26.90 515.92,27.29 516.43,27.91 516.95,28.63 517.47,29.30 517.98,29.80 518.50,30 519.01,29.93 519.53,29.74 520.04,29.44 520.55,29.05 521.07,28.60 521.58,28.10 522.09,27.57 522.61,27.03 523.12,26.50 523.63,26 524.15,25.55 524.66,25.16 525.17,24.86 525.69,24.67 526.20,24.60 526.71,24.61 527.22,24.62 527.73,24.65 528.23,24.69 528.74,24.74 529.25,24.80 529.76,24.87 530.27,24.95 530.77,25.05 531.28,25.15 531.79,25.27 532.30,25.40 532.82,25.70 533.33,26.28 533.85,27.07 534.37,28 534.88,29 535.40,30 535.94,31.12 536.49,32.40 537.03,33.81 537.57,35.31 538.11,36.87 538.66,38.45 539.20,40 539.78,41.69 540.35,43.47 540.92,45.24 541.50,46.90 542.08,48.69 542.65,50.59 543.22,52.09 543.80,52.70 544.38,52.24 544.95,51.09 545.52,49.60 546.10,48.10 546.67,46.25 547.25,43.96 547.83,42.02 548.40,41.20 548.98,42.18 549.55,44.49 550.12,47.15 550.70,49.20 551.30,50.53 551.90,51.65 552.50,52.69 553.10,53.80 553.67,54.88 554.23,55.91 554.80,56.96 555.37,58.09 555.93,59.35 556.50,60.80 557.08,62.66 557.65,64.94 558.22,67.44 558.80,70 559.40,73.51 560,75.70 560.57,75.32 561.13,74.18 561.70,72.30 562.30,64.20 562.81,62.23 563.32,60.68 563.83,59.47 564.34,58.51 564.86,57.75 565.37,57.09 565.88,56.46 566.39,55.79 566.90,55 567.41,54.14 567.92,53.32 568.43,52.52 568.94,51.75 569.46,50.99 569.97,50.26 570.48,49.53 570.99,48.81 571.50,48.10 572,47.39 572.50,46.65 573,45.93 573.50,45.23 574,44.57 574.50,43.99 575,43.50 575.50,43.11 576,42.79 576.50,42.51 577,42.24 577.50,41.96 578,41.62 578.50,41.20 579.01,40.54 579.52,39.60 580.03,38.46 580.54,37.23 581.06,36 581.57,34.88 582.08,33.96 582.59,33.33 583.10,33.10 583.67,33.57 584.23,34.73 584.80,36.25 585.37,37.77 585.93,38.93 586.50,39.40 587,39.28 587.50,38.97 588,38.49 588.50,37.91 589,37.27 589.50,36.62 590,36 590.50,35.38 591,34.69 591.50,33.96 592,33.19 592.50,32.40 593,31.60 593.50,30.80 594.07,29.84 594.63,28.81 595.20,27.76 595.77,26.74 596.33,25.80 596.90,25 597.40,24.40 597.90,23.85 598.40,23.34 598.90,22.86 599.40,22.40 599.90,21.95 600.40,21.50 600.97,20.98 601.53,20.44 602.10,19.92 602.67,19.44 603.23,19.03 603.80,18.70 604.30,18.46 604.80,18.21 605.30,17.99 605.80,17.79 606.30,17.64 606.80,17.54 607.30,17.50 607.84,17.77 608.38,18.46 608.92,19.41 609.46,20.48 610,21.50 610.57,22.85 611.13,24.31 611.70,25 612.30,23.96 612.90,22.04 613.50,21 614.07,21 614.63,21 615.20,21 615.77,21 616.33,21 616.90,21 617.48,20.81 618.05,20.40 618.62,19.99 619.20,19.80 619.70,19.85 620.20,20 620.70,20.22 621.20,20.50 621.70,20.82 622.20,21.16 622.70,21.50 623.28,21.91 623.85,22.40 624.42,23.01 625,23.80 625.57,25.54 626.13,27.85 626.70,29 627.30,27.70 627.90,24.99 628.50,22.70 629.04,21.38 629.58,20.14 630.12,19.07 630.66,18.23 631.20,17.70 631.78,17.35 632.35,17.07 632.92,16.87 633.50,16.80 634.04,16.83 634.59,16.91 635.13,17.03 635.67,17.17 636.21,17.34 636.76,17.52 637.30,17.70 637.82,17.88 638.33,18.09 638.85,18.32 639.37,18.59 639.88,18.88 640.40,19.20 640.92,19.65 641.43,20.26 641.95,20.94 642.47,21.57 642.98,22.06 643.50,22.30 644.01,22.38 644.52,22.46 645.03,22.52 645.54,22.57 646.06,22.62 646.57,22.65 647.08,22.68 647.59,22.69 648.10,22.70 648.61,22.70 649.13,22.70 649.64,22.70 650.15,22.70 650.67,22.70 651.18,22.70 651.69,22.70 652.21,22.70 652.72,22.70 653.23,22.70 653.75,22.70 654.26,22.70 654.77,22.70 655.29,22.70 655.80,22.70 656.31,22.75 656.82,22.89 657.33,23.09 657.84,23.33 658.36,23.57 658.87,23.81 659.38,24.01 659.89,24.15 660.40,24.20 660.91,24.18 661.42,24.11 661.93,24.02 662.44,23.91 662.96,23.79 663.47,23.68 663.98,23.59 664.49,23.52 665,23.50 665.50,23.50 666,23.51 666.50,23.52 667,23.54 667.50,23.57 668,23.61 668.50,23.66 669,23.72 669.50,23.80" fill="none" stroke="#0000ff" stroke-width="1.9" stroke-linejoin="round"/>
<polyline points="71,17.80 71.50,17.80 72,17.80 72.50,17.80 73,17.80 73.50,17.80 74,17.80 74.50,17.80 75,17.80 75.50,17.80 76,17.80 76.50,17.80 77,17.80 77.50,17.80 78,17.80 78.50,17.80 79,17.80 79.50,17.80 80,17.80 80.50,17.80 81,17.80 81.50,17.80 82,17.80 82.50,17.80 83,17.80 83.50,17.80 84,17.80 84.50,17.80 85,17.80 85.50,17.80 86,17.80 86.50,17.80 87,17.80 87.50,17.80 88,17.80 88.50,17.80 89,17.80 89.50,17.80 90,17.80 90.50,17.80 91,17.80 91.50,17.80 92,17.80 92.50,17.80 93,17.80 93.50,17.80 94,17.80 94.50,17.80 95,17.80 95.50,17.80 96,17.80 96.50,17.80 97,17.80 97.50,17.80 98,17.80 98.50,17.80 99,17.80 99.50,17.80 100,17.80 100.50,17.80 101,17.80 101.50,17.80 102,17.80 102.50,17.80 103,17.80 103.50,17.80 104,17.80 104.50,17.80 105,17.80 105.50,17.80 106,17.80 106.50,17.80 107,17.80 107.50,17.80 108,17.80 108.50,17.80 109,17.80 109.50,17.80 110,17.80 110.50,17.80 111,17.80 111.50,17.80 112,17.80 112.50,17.80 113,17.80 113.50,17.80 114,17.80 114.50,17.80 115,17.80 115.50,17.80 116,17.80 116.50,17.80 117,17.80 117.50,17.80 118,17.80 118.50,17.80 119,17.80 119.50,17.80 120,17.80 120.50,17.81 121,17.83 121.50,17.87 122,17.92 122.50,17.98 123,18.05 123.50,18.12 124,18.20 124.50,18.30 125,18.43 125.50,18.58 126,18.77 126.50,18.98 127,19.20 127.50,19.47 128,19.82 128.50,20.21 129,20.63 129.50,21.07 130,21.50 130.53,21.96 131.05,22.45 131.58,22.96 132.11,23.48 132.64,24.01 133.16,24.55 133.69,25.07 134.22,25.59 134.75,26.09 135.27,26.56 135.80,27 136.33,27.41 136.85,27.80 137.38,28.18 137.91,28.54 138.44,28.90 138.96,29.25 139.49,29.59 140.02,29.94 140.55,30.28 141.07,30.64 141.60,31 142.13,31.36 142.65,31.72 143.18,32.06 143.71,32.41 144.24,32.76 144.76,33.11 145.29,33.48 145.82,33.85 146.35,34.25 146.87,34.66 147.40,35.10 147.93,35.57 148.45,36.09 148.98,36.64 149.51,37.22 150.04,37.81 150.56,38.42 151.09,39.04 151.62,39.65 152.15,40.25 152.67,40.84 153.20,41.40 153.73,41.95 154.25,42.51 154.78,43.07 155.31,43.63 155.84,44.18 156.36,44.73 156.89,45.26 157.42,45.77 157.95,46.27 158.47,46.75 159,47.20 159.53,47.63 160.05,48.06 160.58,48.48 161.11,48.89 161.64,49.29 162.16,49.67 162.69,50.04 163.22,50.39 163.75,50.71 164.27,51.02 164.80,51.30 165.33,51.56 165.85,51.79 166.38,52.01 166.91,52.21 167.44,52.40 167.96,52.59 168.49,52.78 169.02,52.97 169.55,53.17 170.07,53.38 170.60,53.60 171.13,53.84 171.65,54.09 172.18,54.34 172.71,54.61 173.24,54.87 173.76,55.14 174.29,55.42 174.82,55.69 175.35,55.96 175.87,56.23 176.40,56.50 176.91,56.77 177.42,57.05 177.93,57.34 178.44,57.63 178.96,57.92 179.47,58.18 179.98,58.42 180.49,58.63 181,58.80 181.50,58.94 182,59.08 182.50,59.21 183,59.33 183.50,59.42 184,59.48 184.50,59.50 185,59.48 185.50,59.42 186,59.33 186.50,59.22 187,59.09 187.50,58.95 188,58.80 188.53,58.61 189.05,58.35 189.58,58.04 190.11,57.69 190.64,57.30 191.16,56.88 191.69,56.45 192.22,56.02 192.75,55.59 193.27,55.18 193.80,54.80 194.33,54.43 194.85,54.06 195.38,53.69 195.91,53.31 196.44,52.94 196.96,52.56 197.49,52.19 198.02,51.81 198.55,51.44 199.07,51.07 199.60,50.70 200.13,50.33 200.65,49.96 201.18,49.59 201.71,49.22 202.24,48.85 202.76,48.49 203.29,48.12 203.82,47.76 204.35,47.40 204.87,47.05 205.40,46.70 205.91,46.36 206.42,46.03 206.93,45.70 207.44,45.37 207.96,45.04 208.47,44.72 208.98,44.40 209.49,44.10 210,43.80 210.50,43.51 211.01,43.21 211.51,42.90 212.01,42.58 212.51,42.26 213.02,41.93 213.52,41.60 214.02,41.26 214.52,40.93 215.03,40.59 215.53,40.25 216.03,39.91 216.53,39.57 217.04,39.23 217.54,38.89 218.04,38.56 218.54,38.24 219.05,37.91 219.55,37.60 220.05,37.29 220.55,36.99 221.06,36.70 221.56,36.42 222.06,36.14 222.56,35.88 223.07,35.63 223.57,35.40 224.07,35.18 224.57,34.97 225.08,34.78 225.58,34.60 226.08,34.44 226.58,34.31 227.09,34.19 227.59,34.08 228.09,34.01 228.59,33.95 229.10,33.91 229.60,33.90 230.13,33.90 230.65,33.90 231.18,33.90 231.71,33.90 232.24,33.90 232.76,33.90 233.29,33.90 233.82,33.90 234.35,33.90 234.87,33.90 235.40,33.90 235.94,33.95 236.48,34.09 237.02,34.31 237.56,34.60 238.10,34.95 238.64,35.35 239.18,35.78 239.72,36.24 240.26,36.72 240.80,37.20 241.30,37.69 241.80,38.28 242.30,38.95 242.80,39.69 243.30,40.51 243.80,41.38 244.30,42.32 244.80,43.30 245.31,44.41 245.83,45.69 246.34,47.09 246.85,48.61 247.36,50.22 247.88,51.91 248.39,53.64 248.90,55.40 249.45,57.51 250,59.94 250.55,62.48 251.10,64.94 251.65,67.15 252.20,68.90 252.74,70.38 253.28,71.83 253.82,73.09 254.36,73.97 254.90,74.30 255.44,73.86 255.98,72.70 256.52,71.08 257.06,69.26 257.60,67.50 258.10,65.64 258.60,63.27 259.10,60.62 259.60,57.92 260.10,55.42 260.60,53.34 261.10,51.92 261.60,51.40 262.11,51.51 262.62,51.80 263.12,52.24 263.63,52.80 264.14,53.43 264.65,54.10 265.16,54.77 265.67,55.40 266.18,55.96 266.68,56.40 267.19,56.69 267.70,56.80 268.20,55.35 268.70,51.92 269.20,47.88 269.70,44.60 270.27,41.78 270.83,38.96 271.40,36.31 271.97,34.02 272.53,32.26 273.10,31.20 273.61,30.64 274.11,30.12 274.62,29.65 275.12,29.21 275.63,28.81 276.14,28.44 276.64,28.11 277.15,27.81 277.66,27.54 278.16,27.30 278.67,27.09 279.18,26.90 279.68,26.74 280.19,26.61 280.69,26.49 281.20,26.40 281.71,26.32 282.22,26.24 282.72,26.17 283.23,26.10 283.74,26.04 284.25,25.98 284.76,25.92 285.26,25.87 285.77,25.82 286.28,25.77 286.79,25.73 287.30,25.69 287.81,25.65 288.31,25.61 288.82,25.58 289.33,25.55 289.84,25.51 290.35,25.48 290.85,25.45 291.36,25.42 291.87,25.39 292.38,25.36 292.89,25.34 293.39,25.31 293.90,25.28 294.41,25.25 294.92,25.22 295.43,25.18 295.94,25.15 296.44,25.11 296.95,25.08 297.46,25.04 297.97,25 298.48,24.95 298.98,24.90 299.49,24.85 300,24.80 300.50,24.74 301,24.68 301.50,24.61 302,24.54 302.50,24.47 303,24.39 303.50,24.31 304,24.23 304.50,24.15 305,24.06 305.50,23.98 306,23.90 306.50,23.83 307,23.75 307.50,23.68 308,23.61 308.50,23.55 309,23.49 309.50,23.44 310,23.40 310.50,23.36 311,23.32 311.50,23.28 312,23.25 312.50,23.21 313,23.18 313.50,23.14 314,23.11 314.50,23.07 315,23.04 315.50,23.01 316,22.98 316.50,22.95 317,22.92 317.50,22.89 318,22.86 318.50,22.83 319,22.81 319.50,22.78 320,22.75 320.50,22.73 321,22.70 321.50,22.68 322,22.65 322.50,22.63 323,22.60 323.50,22.58 324,22.56 324.50,22.54 325,22.51 325.50,22.49 326,22.47 326.50,22.45 327,22.43 327.50,22.41 328,22.39 328.50,22.37 329,22.35 329.50,22.33 330,22.31 330.50,22.29 331,22.27 331.50,22.25 332,22.23 332.50,22.21 333,22.19 333.50,22.17 334,22.15 334.50,22.13 335,22.11 335.50,22.09 336,22.07 336.50,22.05 337,22.03 337.50,22.01 338,21.99 338.50,21.96 339,21.94 339.50,21.92 340,21.90 340.50,21.88 341,21.85 341.50,21.83 342,21.80 342.50,21.78 343,21.75 343.50,21.72 344,21.70 344.50,21.67 345,21.65 345.50,21.62 346,21.60 346.50,21.58 347,21.56 347.50,21.54 348,21.53 348.50,21.52 349,21.51 349.50,21.50 350,21.50 350.50,21.83 351,22.55 351.50,23.27 352,23.60 352.50,23.49 353,23.20 353.50,22.83 354,22.45 354.50,22.14 355,22 355.50,21.97 356,21.93 356.50,21.91 357,21.88 357.50,21.85 358,21.83 358.50,21.81 359,21.79 359.50,21.77 360,21.75 360.50,21.74 361,21.72 361.50,21.71 362,21.70 362.50,21.69 363,21.68 363.50,21.67 364,21.66 364.50,21.65 365,21.65 365.50,21.64 366,21.64 366.50,21.63 367,21.63 367.50,21.62 368,21.62 368.50,21.61 369,21.61 369.50,21.60 370,21.60 370.50,21.59 371,21.58 371.50,21.58 372,21.57 372.50,21.56 373,21.55 373.50,21.54 374,21.53 374.50,21.52 375,21.51 375.50,21.50 376,21.48 376.50,21.46 377,21.45 377.50,21.43 378,21.40 378.50,21.38 379,21.36 379.50,21.33 380,21.30 380.50,21.25 381,21.15 381.50,21.01 382,20.86 382.50,20.68 383,20.50 383.50,20.33 384,20.16 384.50,20.02 385,19.90 385.50,19.83 386,19.80 386.50,19.84 387,19.96 387.50,20.12 388,20.30 388.50,20.48 389,20.64 389.50,20.76 390,20.80 390.50,20.80 391,20.80 391.50,20.79 392,20.79 392.50,20.78 393,20.77 393.50,20.76 394,20.74 394.50,20.73 395,20.71 395.50,20.70 396,20.68 396.50,20.66 397,20.64 397.50,20.61 398,20.59 398.50,20.57 399,20.54 399.50,20.52 400,20.49 400.50,20.46 401,20.43 401.50,20.40 402,20.37 402.50,20.34 403,20.31 403.50,20.28 404,20.25 404.50,20.22 405,20.18 405.50,20.15 406,20.12 406.50,20.09 407,20.05 407.50,20.02 408,19.99 408.50,19.95 409,19.92 409.50,19.89 410,19.85 410.50,19.82 411,19.79 411.50,19.76 412,19.73 412.50,19.70 413,19.67 413.50,19.64 414,19.61 414.50,19.58 415,19.55 415.50,19.53 416,19.50 416.50,19.47 417,19.45 417.50,19.42 418,19.39 418.50,19.37 419,19.34 419.50,19.31 420,19.28 420.50,19.25 421,19.22 421.50,19.19 422,19.16 422.50,19.12 423,19.09 423.50,19.06 424,19.03 424.50,19 425,18.96 425.50,18.93 426,18.90 426.50,18.86 427,18.83 427.50,18.80 428,18.76 428.50,18.73 429,18.70 429.50,18.66 430,18.63 430.50,18.60 431,18.57 431.50,18.53 432,18.50 432.50,18.47 433,18.44 433.50,18.41 434,18.38 434.50,18.35 435,18.32 435.50,18.29 436,18.26 436.50,18.23 437,18.20 437.50,18.18 438,18.15 438.50,18.12 439,18.10 439.50,18.07 440,18.05 440.50,18.03 441,18.01 441.50,17.99 442,17.97 442.50,17.95 443,17.93 443.50,17.91 444,17.90 444.50,17.88 445,17.87 445.50,17.86 446,17.84 446.50,17.83 447,17.83 447.50,17.82 448,17.81 448.50,17.81 449,17.80 449.50,17.80 450,17.80 450.57,17.85 451.15,18 451.73,18.23 452.30,18.50 452.88,18.90 453.45,19.56 454.03,20.54 454.60,21.90 455.20,25.50 455.80,32.30 456.30,43.80 457.20,55.40 457.50,75 457.80,97 458.20,113 458.90,128 459.60,143 460.30,128 460.85,120.30 461.40,113 462.30,97 462.70,85 463.30,77 463.90,73.35 464.50,71 465.10,69.17 465.70,67.63 466.30,66.38 466.90,65.40 467.42,64.66 467.93,63.94 468.45,63.30 468.97,62.78 469.48,62.43 470,62.30 470.54,62.38 471.09,62.60 471.63,62.89 472.17,63.21 472.71,63.50 473.26,63.72 473.80,63.80 474.30,63.73 474.80,63.55 475.30,63.26 475.80,62.89 476.30,62.46 476.80,61.99 477.30,61.50 477.80,61.01 478.30,60.54 478.80,60.11 479.30,59.74 479.80,59.45 480.30,59.27 480.80,59.20 481.34,59.23 481.88,59.33 482.42,59.47 482.96,59.67 483.50,59.91 484.04,60.18 484.58,60.48 485.12,60.81 485.66,61.15 486.20,61.50 486.71,61.98 487.22,62.69 487.73,63.55 488.24,64.50 488.76,65.45 489.27,66.32 489.78,67.03 490.29,67.52 490.80,67.70 491.34,67.58 491.89,67.22 492.43,66.67 492.97,65.96 493.51,65.10 494.06,64.14 494.60,63.10 495.16,61.14 495.71,57.86 496.27,53.84 496.83,49.68 497.39,45.98 497.94,43.32 498.50,42.30 499,42.64 499.50,43.57 500,44.93 500.50,46.55 501,48.30 501.50,50 502.07,52.09 502.65,54.54 503.23,57.21 503.80,60 504.32,63.05 504.83,66.78 505.35,70.64 505.87,74.08 506.38,76.55 506.90,77.50 507.46,76.77 508.01,74.80 508.57,71.92 509.13,68.44 509.69,64.69 510.24,61.01 510.80,57.70 511.38,53.91 511.95,49.60 512.52,46.07 513.10,44.60 513.64,44.79 514.18,45.32 514.72,46.09 515.26,47.03 515.80,48.05 516.34,49.07 516.88,50.01 517.42,50.78 517.96,51.31 518.50,51.50 519.02,51.35 519.55,50.91 520.08,50.23 520.60,49.34 521.12,48.30 521.65,47.13 522.17,45.89 522.70,44.60 523.23,43.31 523.75,42.07 524.27,40.90 524.80,39.86 525.32,38.97 525.85,38.29 526.38,37.85 526.90,37.70 527.42,38.02 527.93,38.83 528.45,39.89 528.97,40.98 529.48,41.86 530,42.30 530.50,42.42 531,42.49 531.50,42.54 532,42.58 532.50,42.62 533,42.67 533.50,42.76 534,42.90 534.60,44.80 535.20,48.74 535.80,52.70 536.38,55.89 536.95,59.12 537.52,62.31 538.10,65.40 538.67,68.31 539.25,71.09 539.83,73.90 540.40,76.90 540.98,80.20 541.55,83.72 542.12,87.28 542.70,90.70 543.25,94.54 543.80,96.80 544.40,95.73 545,93.06 545.60,89.60 546.17,83.84 546.73,75.97 547.30,70 547.85,66.50 548.40,64.80 549,66.47 549.60,70.32 550.20,74.60 550.77,79.14 551.33,84.27 551.90,88.40 552.48,91.19 553.05,93.47 553.62,95.52 554.20,97.60 554.72,99.45 555.23,101.13 555.75,102.79 556.27,104.53 556.78,106.50 557.30,108.80 557.87,111.90 558.43,115.74 559,120.40 559.60,128.03 560.20,135.40 560.60,138 561.25,129 561.90,118 562.41,115.18 562.92,112.92 563.43,111.09 563.94,109.59 564.46,108.30 564.97,107.11 565.48,105.91 565.99,104.57 566.50,103 567.03,101.21 567.56,99.41 568.09,97.59 568.61,95.74 569.14,93.87 569.67,91.96 570.20,90 570.78,87.72 571.36,85.30 571.94,82.86 572.52,80.52 573.10,78.40 573.67,76.35 574.25,74.32 574.83,72.61 575.40,71.50 576.03,70.94 576.67,70.57 577.30,70 577.80,68.81 578.30,66.70 578.80,64.01 579.30,61.04 579.80,58.14 580.30,55.62 580.80,53.80 581.38,52.20 581.95,50.72 582.52,49.63 583.10,49.20 583.67,49.89 584.23,51.61 584.80,53.85 585.37,56.09 585.93,57.81 586.50,58.50 587,58.32 587.50,57.81 588,57.05 588.50,56.10 589,55.01 589.50,53.86 590,52.70 590.50,51.36 591,49.70 591.50,47.81 592,45.79 592.50,43.75 593,41.78 593.50,40 594.07,38.07 594.63,36.10 595.20,34.17 595.77,32.39 596.33,30.83 596.90,29.60 597.40,28.75 597.90,28.02 598.40,27.38 598.90,26.79 599.40,26.22 599.90,25.63 600.40,25 600.97,24.23 601.53,23.46 602.10,22.67 602.67,21.90 603.23,21.14 603.80,20.40 604.40,19.52 605,18.57 605.60,17.81 606.20,17.50 606.73,17.64 607.27,18.03 607.80,18.65 608.33,19.45 608.87,20.41 609.40,21.50 610,24.48 610.60,28.67 611.20,30.80 611.78,29.27 612.35,25.90 612.92,22.53 613.50,21 614.01,21.01 614.52,21.03 615.03,21.06 615.54,21.11 616.06,21.17 616.57,21.23 617.08,21.31 617.59,21.40 618.10,21.50 618.61,21.72 619.12,22.13 619.63,22.71 620.14,23.41 620.66,24.19 621.17,25.01 621.68,25.82 622.19,26.60 622.70,27.30 623.28,27.92 623.85,28.47 624.42,29.16 625,30.20 625.57,33.90 626.13,39.44 626.70,42.30 627.40,34.57 628.10,25.40 628.62,23.46 629.13,21.88 629.65,20.62 630.17,19.65 630.68,18.96 631.20,18.50 631.70,18.18 632.20,17.89 632.70,17.65 633.20,17.46 633.70,17.34 634.20,17.30 634.76,17.35 635.31,17.49 635.87,17.71 636.43,18 636.99,18.35 637.54,18.75 638.10,19.20 638.62,19.95 639.13,21.18 639.65,22.70 640.17,24.30 640.68,25.77 641.20,26.90 641.74,27.84 642.29,28.76 642.83,29.62 643.37,30.40 643.91,31.06 644.46,31.57 645,31.90 645.52,32.11 646.03,32.30 646.55,32.46 647.07,32.59 647.58,32.67 648.10,32.70 648.62,32.60 649.13,32.34 649.65,32 650.17,31.65 650.68,31.36 651.20,31.20 651.71,31.14 652.22,31.08 652.73,31.03 653.23,30.98 653.74,30.94 654.25,30.90 654.76,30.87 655.27,30.85 655.77,30.83 656.28,30.81 656.79,30.80 657.30,30.80 657.86,30.93 658.41,31.26 658.97,31.71 659.53,32.19 660.09,32.64 660.64,32.97 661.20,33.10 661.71,33.02 662.22,32.81 662.73,32.50 663.24,32.14 663.76,31.76 664.27,31.40 664.78,31.09 665.29,30.88 665.80,30.80 666.33,30.88 666.86,31.09 667.39,31.44 667.91,31.90 668.44,32.45 668.97,33.09 669.50,33.80" fill="none" stroke="#ff00ff" stroke-width="1.9" stroke-linejoin="round"/>
<rect x="70.9" y="16.2" width="599.0" height="430.8" fill="none" stroke="#000" stroke-width="1.7"/>
<line x1="63.1" y1="16.20" x2="70.9" y2="16.20" stroke="#000" stroke-width="1.6"/>
<text x="58.1" y="22.4" text-anchor="end" class="tk">100</text>
<line x1="66.9" y1="52.10" x2="70.9" y2="52.10" stroke="#000" stroke-width="1.6"/>
<line x1="63.1" y1="88.00" x2="70.9" y2="88.00" stroke="#000" stroke-width="1.6"/>
<text x="58.1" y="94.2" text-anchor="end" class="tk">90</text>
<line x1="66.9" y1="123.90" x2="70.9" y2="123.90" stroke="#000" stroke-width="1.6"/>
<line x1="63.1" y1="159.80" x2="70.9" y2="159.80" stroke="#000" stroke-width="1.6"/>
<text x="58.1" y="166.0" text-anchor="end" class="tk">80</text>
<line x1="66.9" y1="195.70" x2="70.9" y2="195.70" stroke="#000" stroke-width="1.6"/>
<line x1="63.1" y1="231.60" x2="70.9" y2="231.60" stroke="#000" stroke-width="1.6"/>
<text x="58.1" y="237.8" text-anchor="end" class="tk">70</text>
<line x1="66.9" y1="267.50" x2="70.9" y2="267.50" stroke="#000" stroke-width="1.6"/>
<line x1="63.1" y1="303.40" x2="70.9" y2="303.40" stroke="#000" stroke-width="1.6"/>
<text x="58.1" y="309.6" text-anchor="end" class="tk">60</text>
<line x1="66.9" y1="339.30" x2="70.9" y2="339.30" stroke="#000" stroke-width="1.6"/>
<line x1="63.1" y1="375.20" x2="70.9" y2="375.20" stroke="#000" stroke-width="1.6"/>
<text x="58.1" y="381.4" text-anchor="end" class="tk">50</text>
<line x1="66.9" y1="411.10" x2="70.9" y2="411.10" stroke="#000" stroke-width="1.6"/>
<line x1="63.1" y1="447.00" x2="70.9" y2="447.00" stroke="#000" stroke-width="1.6"/>
<text x="58.1" y="453.2" text-anchor="end" class="tk">40</text>
<line x1="70.90" y1="447.0" x2="70.90" y2="454.8" stroke="#000" stroke-width="1.6"/>
<text x="70.9" y="473.5" text-anchor="middle" class="tk">4000</text>
<line x1="113.69" y1="447.0" x2="113.69" y2="451.0" stroke="#000" stroke-width="1.6"/>
<line x1="156.47" y1="447.0" x2="156.47" y2="454.8" stroke="#000" stroke-width="1.6"/>
<text x="156.5" y="473.5" text-anchor="middle" class="tk">3500</text>
<line x1="199.26" y1="447.0" x2="199.26" y2="451.0" stroke="#000" stroke-width="1.6"/>
<line x1="242.04" y1="447.0" x2="242.04" y2="454.8" stroke="#000" stroke-width="1.6"/>
<text x="242.0" y="473.5" text-anchor="middle" class="tk">3000</text>
<line x1="284.83" y1="447.0" x2="284.83" y2="451.0" stroke="#000" stroke-width="1.6"/>
<line x1="327.61" y1="447.0" x2="327.61" y2="454.8" stroke="#000" stroke-width="1.6"/>
<text x="327.6" y="473.5" text-anchor="middle" class="tk">2500</text>
<line x1="370.40" y1="447.0" x2="370.40" y2="451.0" stroke="#000" stroke-width="1.6"/>
<line x1="413.19" y1="447.0" x2="413.19" y2="454.8" stroke="#000" stroke-width="1.6"/>
<text x="413.2" y="473.5" text-anchor="middle" class="tk">2000</text>
<line x1="455.97" y1="447.0" x2="455.97" y2="451.0" stroke="#000" stroke-width="1.6"/>
<line x1="498.76" y1="447.0" x2="498.76" y2="454.8" stroke="#000" stroke-width="1.6"/>
<text x="498.8" y="473.5" text-anchor="middle" class="tk">1500</text>
<line x1="541.54" y1="447.0" x2="541.54" y2="451.0" stroke="#000" stroke-width="1.6"/>
<line x1="584.33" y1="447.0" x2="584.33" y2="454.8" stroke="#000" stroke-width="1.6"/>
<text x="584.3" y="473.5" text-anchor="middle" class="tk">1000</text>
<line x1="627.11" y1="447.0" x2="627.11" y2="451.0" stroke="#000" stroke-width="1.6"/>
<line x1="669.90" y1="447.0" x2="669.90" y2="454.8" stroke="#000" stroke-width="1.6"/>
<text x="669.9" y="473.5" text-anchor="middle" class="tk">500</text>
<text x="289" y="508.5" class="ti">Wavenumber (cm<tspan dy="-8" font-size="14">&#8722;1</tspan><tspan dy="8">)</tspan></text>
<text transform="translate(24,224) rotate(-90)" text-anchor="middle" class="ti">Transmittance (%)</text>
<line x1="184.3" y1="91.7" x2="184.3" y2="74.3" stroke="#1a1a1a" stroke-width="1.15"/>
<polygon points="184.3,64.8 187.3,75.3 181.3,75.3" fill="#000"/>
<line x1="254.9" y1="110.0" x2="254.9" y2="90.8" stroke="#1a1a1a" stroke-width="1.15"/>
<polygon points="254.9,81.3 257.9,91.8 251.9,91.8" fill="#000"/>
<line x1="295.4" y1="84.6" x2="279.3" y2="66.0" stroke="#1a1a1a" stroke-width="1.15"/>
<polygon points="273.1,58.8 282.2,64.8 277.7,68.7" fill="#000"/>
<line x1="434.3" y1="100.2" x2="463.6" y2="74.8" stroke="#1a1a1a" stroke-width="1.15"/>
<polygon points="471.1,68.2 464.4,77.2 461.2,73.6" fill="#000"/>
<line x1="459.8" y1="182.8" x2="459.8" y2="158.6" stroke="#1a1a1a" stroke-width="1.15"/>
<polygon points="459.8,149.1 462.8,159.6 456.8,159.6" fill="#000"/>
<line x1="489.6" y1="156.2" x2="504.4" y2="91.3" stroke="#1a1a1a" stroke-width="1.15"/>
<polygon points="506.5,82.0 507.1,92.9 501.2,91.6" fill="#000"/>
<line x1="531.0" y1="116.5" x2="518.0" y2="80.2" stroke="#1a1a1a" stroke-width="1.15"/>
<polygon points="514.8,71.3 521.2,80.2 515.5,82.2" fill="#000"/>
<line x1="542.7" y1="155.8" x2="542.7" y2="112.0" stroke="#1a1a1a" stroke-width="1.15"/>
<polygon points="542.7,102.5 545.7,113.0 539.7,113.0" fill="#000"/>
<line x1="560.4" y1="214.8" x2="560.4" y2="155.6" stroke="#1a1a1a" stroke-width="1.15"/>
<polygon points="560.4,146.1 563.4,156.6 557.4,156.6" fill="#000"/>
<text x="187.2" y="112" text-anchor="middle" class="an">3340</text>
<text x="257.2" y="129.6" text-anchor="middle" class="an">2920</text>
<text x="298.5" y="104.6" text-anchor="middle" class="an">2850</text>
<text x="410.7" y="115.8" text-anchor="middle" class="an">1660</text>
<text x="458.8" y="202.6" text-anchor="middle" class="an">1730</text>
<text x="489.1" y="176.2" text-anchor="middle" class="an">1465</text>
<text x="525.6" y="135.2" text-anchor="middle" class="an">1423</text>
<text x="539.4" y="176.2" text-anchor="middle" class="an">1255</text>
<text x="561.4" y="236" text-anchor="middle" class="an">1140</text>
<line x1="87.4" y1="349.0" x2="124.4" y2="349.0" stroke="#000" stroke-width="2"/>
<text x="129.5" y="354.0" class="lg">5# before aging</text>
<line x1="87.4" y1="369.2" x2="124.4" y2="369.2" stroke="#f00" stroke-width="2"/>
<text x="129.5" y="374.2" class="lg">5# after aging at 120°C</text>
<line x1="87.4" y1="389.5" x2="124.4" y2="389.5" stroke="#00f" stroke-width="2"/>
<text x="129.5" y="394.5" class="lg">5# after aging at 160°C</text>
<line x1="87.4" y1="409.7" x2="124.4" y2="409.7" stroke="#f0f" stroke-width="2"/>
<text x="129.5" y="414.7" class="lg">5# after UV aging</text>
<text x="87.5" y="436.5" class="lg"># Sample number</text>
</svg>
</body></html>
